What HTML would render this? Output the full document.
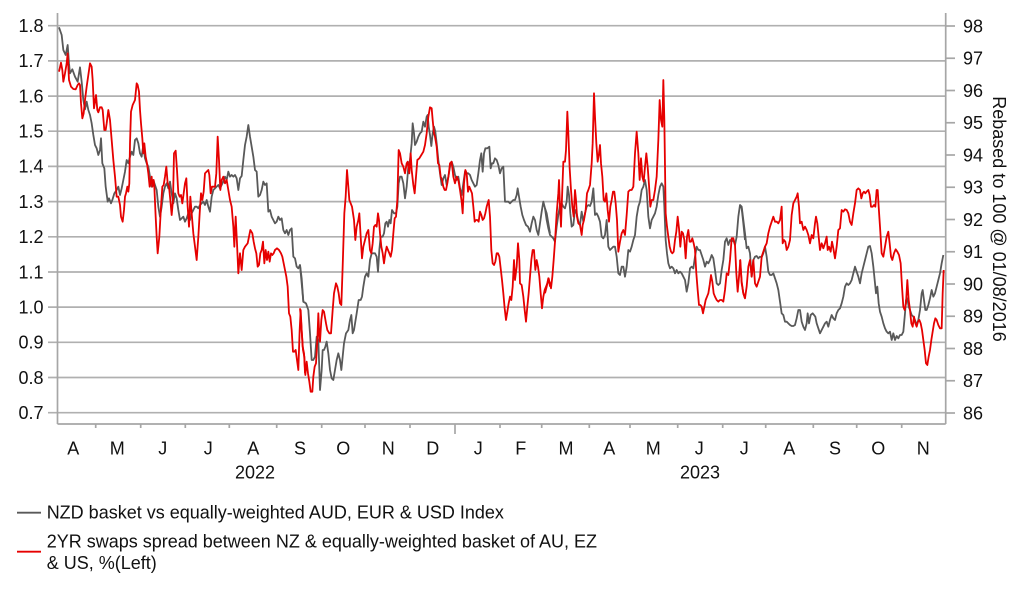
<!DOCTYPE html>
<html><head><meta charset="utf-8"><style>
html,body{margin:0;padding:0;background:#fff;}
svg{display:block;font-family:"Liberation Sans",Arial,sans-serif;}
</style></head><body>
<svg width="1022" height="597" viewBox="0 0 1022 597" xmlns="http://www.w3.org/2000/svg">
<g stroke="#b0b0b0" stroke-width="1.7">
<line x1="48" y1="25.7" x2="946" y2="25.7"/>
<line x1="48" y1="60.9" x2="946" y2="60.9"/>
<line x1="48" y1="96.1" x2="946" y2="96.1"/>
<line x1="48" y1="131.2" x2="946" y2="131.2"/>
<line x1="48" y1="166.4" x2="946" y2="166.4"/>
<line x1="48" y1="201.6" x2="946" y2="201.6"/>
<line x1="48" y1="236.8" x2="946" y2="236.8"/>
<line x1="48" y1="272.0" x2="946" y2="272.0"/>
<line x1="48" y1="307.1" x2="946" y2="307.1"/>
<line x1="48" y1="342.3" x2="946" y2="342.3"/>
<line x1="48" y1="377.5" x2="946" y2="377.5"/>
<line x1="48" y1="412.7" x2="946" y2="412.7"/>
</g>
<g stroke="#a6a6a6" stroke-width="1.7" fill="none">
<line x1="57.5" y1="13" x2="57.5" y2="424"/>
<line x1="945.7" y1="13" x2="945.7" y2="424"/>
<line x1="57.5" y1="424" x2="945.7" y2="424"/>
<line x1="946" y1="26" x2="955" y2="26"/>
<line x1="946" y1="58.25" x2="955" y2="58.25"/>
<line x1="946" y1="90.5" x2="955" y2="90.5"/>
<line x1="946" y1="122.75" x2="955" y2="122.75"/>
<line x1="946" y1="155" x2="955" y2="155"/>
<line x1="946" y1="187.25" x2="955" y2="187.25"/>
<line x1="946" y1="219.5" x2="955" y2="219.5"/>
<line x1="946" y1="251.75" x2="955" y2="251.75"/>
<line x1="946" y1="284" x2="955" y2="284"/>
<line x1="946" y1="316.25" x2="955" y2="316.25"/>
<line x1="946" y1="348.5" x2="955" y2="348.5"/>
<line x1="946" y1="380.75" x2="955" y2="380.75"/>
<line x1="946" y1="413" x2="955" y2="413"/>
<line x1="95.7" y1="424" x2="95.7" y2="428"/>
<line x1="140.7" y1="424" x2="140.7" y2="428"/>
<line x1="185.3" y1="424" x2="185.3" y2="428"/>
<line x1="229.3" y1="424" x2="229.3" y2="428"/>
<line x1="276.7" y1="424" x2="276.7" y2="428"/>
<line x1="321.7" y1="424" x2="321.7" y2="428"/>
<line x1="365" y1="424" x2="365" y2="428"/>
<line x1="410" y1="424" x2="410" y2="428"/>
<line x1="455" y1="424" x2="455" y2="434"/>
<line x1="500" y1="424" x2="500" y2="428"/>
<line x1="541.7" y1="424" x2="541.7" y2="428"/>
<line x1="589.3" y1="424" x2="589.3" y2="428"/>
<line x1="630" y1="424" x2="630" y2="428"/>
<line x1="677.7" y1="424" x2="677.7" y2="428"/>
<line x1="722.7" y1="424" x2="722.7" y2="428"/>
<line x1="765.7" y1="424" x2="765.7" y2="428"/>
<line x1="813.3" y1="424" x2="813.3" y2="428"/>
<line x1="856.7" y1="424" x2="856.7" y2="428"/>
<line x1="901.7" y1="424" x2="901.7" y2="428"/>
</g>
<g font-size="18" fill="#111" text-anchor="end">
<text x="43.5" y="32">1.8</text>
<text x="43.5" y="67.2">1.7</text>
<text x="43.5" y="102.4">1.6</text>
<text x="43.5" y="137.5">1.5</text>
<text x="43.5" y="172.7">1.4</text>
<text x="43.5" y="207.9">1.3</text>
<text x="43.5" y="243.1">1.2</text>
<text x="43.5" y="278.3">1.1</text>
<text x="43.5" y="313.4">1.0</text>
<text x="43.5" y="348.6">0.9</text>
<text x="43.5" y="383.8">0.8</text>
<text x="43.5" y="419">0.7</text>
</g>
<g font-size="18" fill="#111" text-anchor="start">
<text x="963" y="32.3">98</text>
<text x="963" y="64.5">97</text>
<text x="963" y="96.8">96</text>
<text x="963" y="129">95</text>
<text x="963" y="161.3">94</text>
<text x="963" y="193.5">93</text>
<text x="963" y="225.8">92</text>
<text x="963" y="258">91</text>
<text x="963" y="290.3">90</text>
<text x="963" y="322.5">89</text>
<text x="963" y="354.8">88</text>
<text x="963" y="387">87</text>
<text x="963" y="419.3">86</text>
</g>
<text font-size="18" fill="#111" text-anchor="middle" transform="translate(993,219) rotate(90)">Rebased to 100 @ 01/08/2016</text>
<g font-size="18" fill="#111" text-anchor="middle">
<text x="73.3" y="454.3">A</text>
<text x="117.3" y="454.3">M</text>
<text x="162.7" y="454.3">J</text>
<text x="208.3" y="454.3">J</text>
<text x="253.3" y="454.3">A</text>
<text x="300" y="454.3">S</text>
<text x="343.3" y="454.3">O</text>
<text x="388.3" y="454.3">N</text>
<text x="432.7" y="454.3">D</text>
<text x="478.3" y="454.3">J</text>
<text x="520.7" y="454.3">F</text>
<text x="566" y="454.3">M</text>
<text x="609.3" y="454.3">A</text>
<text x="653.3" y="454.3">M</text>
<text x="699.3" y="454.3">J</text>
<text x="744.3" y="454.3">J</text>
<text x="789.3" y="454.3">A</text>
<text x="835" y="454.3">S</text>
<text x="878.3" y="454.3">O</text>
<text x="923.3" y="454.3">N</text>
<text x="255" y="478.3">2022</text>
<text x="700" y="478.3">2023</text>
</g>

<!-- Segment 1 -->
<g transform="translate(55,20) scale(0.333333)" fill="none" stroke-width="5.4" stroke-linejoin="round">
<polyline stroke="#595959" points="12,22 20,45 25,90 32,105 38,75 42,130 45,160 52,148 60,170 68,185 75,142 80,185 85,240 90,268 95,245 100,270 105,285 110,310 115,345 120,375 125,385 130,405 135,390 138,355 142,430 148,445 152,500 158,545 162,535 168,550 172,540 178,520 185,510 190,500 195,525 200,505 205,480 210,455 215,420 220,430 225,410 230,395 235,405 240,360 245,355 250,370 255,400 260,410 265,375 270,415 275,430 280,440 285,470 290,500 295,480 300,495 305,510 310,560 315,590 320,560 325,520 330,500 335,490 340,505 345,485 350,520 355,550 360,520 365,535 370,570 375,600 380,595 385,590 390,605 395,595 400,580 405,600 410,580 415,570 420,560 425,560 430,565 435,555 440,550 445,545 450,555 455,540 460,560 465,575 470,530 475,510 480,505 485,500 490,495 495,505 500,495 505,485 510,470 515,480 520,455 525,470 530,465 535,470 540,465 545,475 550,510 555,475 560,468 565,420 570,375 575,350 580,315 585,350 590,380 595,410 600,450 605,455 610,530 615,525 620,510 625,485 630,495 635,490 640,575 645,570 650,590 655,600 660,610 665,605 670,590 675,600 680,595 685,630 690,640 695,630 700,645 705,630 710,625 715,710 720,715 725,740 730,745 735,735 740,775 745,845 750,848"/>
<polyline stroke="#e60000" points="12,155 18,128 22,150 25,185 30,160 35,130 38,100 42,180 48,200 55,207 62,208 68,195 72,190 75,195 78,250 82,295 86,280 90,240 95,200 100,165 105,130 110,140 113,180 117,265 120,245 123,225 127,270 130,277 135,262 140,262 143,270 148,330 152,330 155,310 160,270 165,300 170,360 175,420 180,470 185,530 190,530 195,555 198,590 203,605 207,570 210,530 213,520 217,500 220,515 223,490 225,370 228,275 233,255 240,240 245,190 248,195 252,215 255,270 258,310 262,355 265,400 268,370 272,410 276,430 280,460 284,500 290,470 292,500 296,480 298,500 302,590 305,650 308,700 313,650 318,560 322,500 326,495 330,470 334,440 338,490 342,500 346,540 350,585 354,540 357,400 362,392 366,450 370,520 374,530 378,525 382,550 386,520 390,490 394,475 398,560 402,620 406,530 410,580 415,640 420,680 425,720 430,650 434,580 438,520 442,540 446,515 450,460 455,455 460,450 463,465 467,520 471,500 475,500 480,500 484,460 488,350 492,420 496,510 500,480 505,470 510,490 515,480 520,510 525,540 530,560 535,620 538,680 542,590 546,670 550,760 555,700 560,750 565,690 570,680 578,670 582,650 586,630 592,640 596,665 600,685 604,700 608,740 612,735 616,700 620,690 624,665 628,730 632,690 636,720 640,695 644,725 648,700 652,705 656,700 660,690 666,685 672,690 678,700 682,710 686,730 690,750 694,770 698,800 702,880 706,890 710,930 714,995 718,995 722,990 726,1020 730,1050 734,930 737,870 740,930 744,990 748,1010 750,1060"/>
</g>

<!-- Segment 2 -->
<g transform="translate(300,20) scale(0.333333)" fill="none" stroke-width="5.4" stroke-linejoin="round">
<polyline stroke="#595959" points="0,735 5,790 10,845 18,850 25,870 30,940 35,1020 40,1020 45,1010 50,950 55,960 60,1110 65,1050 68,990 72,990 76,980 80,965 85,1000 90,1050 95,1075 100,1080 105,1050 110,1020 115,1000 120,1020 124,1050 128,1010 132,970 138,940 145,930 150,900 154,885 158,940 162,930 166,905 170,880 176,840 182,840 186,830 190,800 195,770 200,760 205,770 210,720 215,700 220,700 225,700 230,710 234,755 238,690 242,650 248,650 252,640 256,610 260,605 264,620 268,600 272,610 276,570 282,580 288,580 292,560 296,490 300,470 305,470 310,490 315,535 320,500 325,440 330,420 335,370 338,310 342,340 345,375 350,365 355,350 360,340 365,335 370,305 375,320 380,290 383,285 386,320 390,345 394,378 398,340 402,320 406,335 410,370 415,420 420,460 425,495 430,475 435,465 440,495 445,470 450,440 455,425 460,440 465,465 470,480 475,470 480,505 485,525 490,490 495,455 500,460 505,460 510,465 515,480 520,490 525,500 530,495 535,460 540,420 544,400 548,455 552,400 556,385 562,385 568,380 572,445 576,430 580,430 585,415 590,420 595,435 600,460 605,445 610,440 615,545 620,545 625,545 630,550 635,545 640,540 645,540 650,525 653,505 657,530 662,560 667,585 672,600 678,615 684,620 690,635 695,610 700,590 705,600 710,630 715,645 720,610 725,575 730,545 735,565 740,580 745,610 750,640"/>
<polyline stroke="#e60000" points="0,865 3,900 8,980 12,1000 16,1065 20,1025 24,1060 28,1085 32,1115 37,1115 40,1070 44,1040 48,1030 52,960 55,880 58,950 60,965 64,900 68,870 72,875 78,910 82,930 88,940 93,940 98,870 102,820 108,790 112,800 116,820 120,850 124,855 128,740 133,580 137,530 141,450 145,500 148,540 152,550 156,560 162,600 166,660 170,620 175,600 178,580 182,650 186,715 190,680 195,660 200,640 205,630 210,690 214,700 218,670 222,620 226,615 230,620 234,580 237,600 240,640 244,680 248,700 252,730 256,700 260,680 264,690 268,700 272,710 276,690 280,640 284,595 288,590 292,540 296,390 300,400 305,430 310,440 315,460 320,430 323,425 328,460 332,400 335,450 340,495 344,520 348,470 352,420 358,415 364,405 370,395 375,375 380,340 385,290 390,262 395,265 398,300 402,340 405,350 410,380 414,430 418,435 422,470 426,480 430,500 434,510 438,510 442,490 446,465 450,430 455,425 460,470 465,490 470,470 475,480 480,510 485,545 488,580 492,490 496,450 500,460 504,515 508,500 512,510 516,520 520,560 524,605 528,600 532,600 536,605 540,575 544,585 548,600 552,595 556,580 560,560 566,540 570,590 574,690 578,730 582,735 586,725 590,700 594,700 598,710 602,745 606,780 610,820 614,865 618,900 622,875 626,850 630,830 634,840 638,800 642,720 645,780 650,740 654,670 658,720 660,790 665,795 670,830 674,870 678,905 682,860 686,820 690,770 694,720 698,690 702,690 706,750 710,720 714,740 718,770 722,820 726,865 730,830 734,810 738,800 742,790 746,775 750,800"/>
</g>

<!-- Segment 3 -->
<g transform="translate(545,20) scale(0.333333)" fill="none" stroke-width="5.4" stroke-linejoin="round">
<polyline stroke="#595959" points="0,565 5,600 10,625 15,645 20,650 25,655 30,665 35,620 40,585 45,555 50,550 55,560 60,565 65,545 68,500 72,525 76,580 80,620 85,615 90,570 95,580 100,605 105,615 110,575 115,605 120,580 125,560 130,555 135,558 140,545 145,505 150,585 155,580 160,590 165,605 170,650 175,655 180,645 185,600 190,680 195,690 200,685 205,680 210,680 215,710 220,760 225,765 230,740 235,740 240,770 245,740 250,690 255,695 260,680 265,660 270,645 275,590 280,560 285,545 290,510 295,500 300,480 305,510 310,590 315,625 320,600 325,590 330,580 335,560 340,525 345,500 350,490 355,500 358,560 362,660 366,700 370,730 375,745 380,740 385,745 390,760 395,750 400,760 405,755 410,760 415,770 420,780 425,815 430,790 435,745 440,740 445,745 450,710 455,680 460,690 465,690 470,705 475,720 480,740 485,725 490,730 495,720 500,705 505,715 510,750 515,790 520,795 525,790 530,750 535,720 540,665 545,655 550,675 555,660 560,665 565,660 570,675 575,650 580,590 585,555 590,565 595,610 600,660"/>
<polyline stroke="#e60000" points="0,820 5,800 10,775 15,790 18,805 22,770 26,720 30,665 35,580 40,520 42,480 45,560 48,620 50,560 53,480 55,425 60,425 63,390 67,275 70,340 74,445 78,510 82,560 86,590 90,510 93,540 96,590 100,610 105,615 110,645 113,615 117,600 122,570 126,520 130,510 135,495 140,430 143,370 147,220 150,290 154,370 158,425 162,400 165,375 168,430 172,470 176,540 180,545 184,520 188,570 192,605 196,560 200,540 204,515 208,515 212,550 216,600 220,695 225,665 230,640 235,630 240,645 245,585 250,515 255,510 260,510 265,500 270,400 275,335 280,400 284,480 288,415 292,470 296,485 300,440 304,400 308,440 312,495 316,560 320,540 325,540 330,510 335,470 340,360 344,240 348,300 352,320 355,180 358,300 362,580 366,620 370,650 374,680 378,695 382,700 386,695 390,660 394,635 398,590 402,625 406,680 410,635 414,640 418,660 422,715 426,650 430,630 434,665 438,665 442,655 446,670 450,690 454,760 458,810 462,855 466,855 470,860 474,880 478,860 482,840 486,830 490,820 494,795 498,765 502,785 506,820 510,830 515,840 520,845 525,840 530,840 535,845 540,810 545,760 550,765 555,720 560,655 565,655 570,675 574,760 578,815 582,770 586,720 590,790 595,820 600,835"/>
</g>

<!-- Segment 4 -->
<g transform="translate(740,20) scale(0.333333)" fill="none" stroke-width="5.4" stroke-linejoin="round">
<polyline stroke="#595959" points="0,555 5,560 10,600 15,640 20,685 25,680 30,700 35,770 40,720 45,710 50,708 55,715 60,710 65,712 70,700 75,680 80,710 85,755 90,765 95,765 100,760 105,775 110,790 115,810 120,845 125,880 130,885 135,905 140,905 145,910 150,915 155,918 160,918 165,915 170,895 175,870 180,870 185,905 190,920 195,930 200,910 203,880 207,910 212,885 218,880 222,885 226,890 230,910 235,925 240,940 245,930 250,920 255,910 260,905 265,920 270,900 275,885 280,895 285,900 290,880 295,870 300,865 305,850 310,830 315,800 320,790 325,795 330,790 335,780 340,760 345,740 350,755 355,770 360,790 365,760 370,740 375,720 380,700 385,680 390,678 395,700 400,740 405,790 408,820 412,800 416,850 420,875 425,890 430,910 435,925 440,935 445,940 450,935 455,960 460,940 465,960 470,948 475,955 480,945 485,945 490,935 495,880 498,840 502,835 506,860 510,870 515,885 520,890 525,900 530,915 535,900 540,870 545,820 548,810 552,840 556,870 560,870 565,855 570,835 575,810 580,830 585,820 590,800 595,780 600,760 605,730 610,705"/>
<polyline stroke="#e60000" points="0,720 5,785 10,820 15,835 20,800 25,740 30,720 35,770 40,720 45,790 50,800 55,785 60,770 65,710 70,695 75,680 80,670 85,640 90,620 95,605 100,590 105,605 110,605 115,610 120,600 125,560 128,670 132,660 136,665 140,690 145,680 150,660 155,585 160,550 165,540 170,530 173,520 177,560 180,610 185,605 190,630 195,620 200,630 205,645 210,670 215,645 220,655 225,610 228,590 232,610 235,640 240,690 245,670 250,685 255,670 260,650 263,690 267,680 272,695 276,665 280,685 285,715 290,680 295,630 300,625 305,570 310,575 315,568 320,570 325,580 330,605 335,615 340,580 345,550 350,510 355,505 360,510 364,535 368,520 372,515 376,520 380,515 385,510 389,525 393,560 398,560 402,555 406,560 410,510 413,510 416,560 420,620 425,700 430,710 435,680 440,650 445,635 449,670 453,710 457,720 462,700 467,688 472,695 477,705 482,730 486,800 490,860 494,870 498,850 502,780 506,840 510,870 514,910 518,920 522,890 526,910 530,920 534,905 538,900 542,910 546,930 550,960 554,990 558,1030 562,1035 566,1010 570,990 574,960 578,935 582,910 586,895 590,900 595,915 600,925 605,925 608,820 611,750"/>
</g>

<!-- Legend -->
<line x1="17" y1="512.7" x2="41" y2="512.7" stroke="#595959" stroke-width="1.8"/>
<line x1="17" y1="551.7" x2="41" y2="551.7" stroke="#e60000" stroke-width="1.8"/>
<g font-size="18" fill="#111">
<text x="46.7" y="518.6">NZD basket vs equally-weighted AUD, EUR &amp; USD Index</text>
<text x="46.7" y="547.6">2YR swaps spread between NZ &amp; equally-weighted basket of AU, EZ</text>
<text x="46.7" y="568.8">&amp; US, %(Left)</text>
</g>
</svg>
</body></html>
